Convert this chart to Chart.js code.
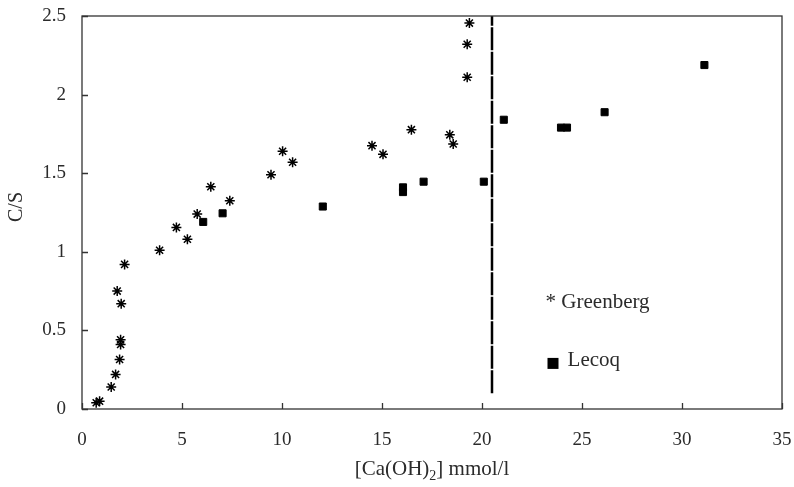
<!DOCTYPE html>
<html>
<head>
<meta charset="utf-8">
<script src="https://cdn.jsdelivr.net/npm/chart.js@4/dist/chart.umd.min.js"></script>
<style>
  html, body { margin:0; padding:0; background:#fff; }
  #wrap { width:794px; height:487px; }
</style>
</head>
<body>
<div id="wrap"><canvas id="csChart" width="794" height="487"></canvas></div>
<script>
// Greenberg (asterisks)
const greenbergX = [0.71, 0.88, 1.46, 1.68, 1.88, 1.93, 1.93, 1.96, 1.76, 2.13, 3.88, 4.72, 5.27, 5.76, 6.44, 7.39, 9.45, 10.03, 10.53, 14.5, 15.05, 16.47, 18.39, 18.56, 19.26, 19.26, 19.37];
const greenbergY = [0.04, 0.05, 0.14, 0.22, 0.315, 0.41, 0.44, 0.67, 0.75, 0.92, 1.01, 1.155, 1.08, 1.24, 1.414, 1.325, 1.49, 1.64, 1.57, 1.675, 1.62, 1.777, 1.744, 1.686, 2.11, 2.32, 2.455];

// Lecoq (squares)
const lecoqX = [6.06, 7.03, 12.04, 16.05, 16.05, 17.08, 20.09, 21.09, 23.95, 24.25, 26.13, 31.12];
const lecoqY = [1.19, 1.245, 1.288, 1.38, 1.41, 1.446, 1.446, 1.84, 1.79, 1.79, 1.888, 2.188];

// vertical boundary line
const boundaryX = [20.5, 20.5];
const boundaryY = [0.1, 2.5];

const xTicks = [0, 5, 10, 15, 20, 25, 30, 35];
const yTicks = [0, 0.5, 1, 1.5, 2, 2.5];

const serif = '"Liberation Serif", "Times New Roman", serif';
const textColor = '#2b2b2b';

function toPoints(xs, ys){
    return xs.map((x, i) => ({ x: x, y: ys[i] }));
}

// box, inner tick marks, axis titles and the in-plot legend
const decorations = {
    id: 'decorations',
    afterDraw(chart){
        const ctx = chart.ctx;
        const a = chart.chartArea;
        const xs = chart.scales.x, ys = chart.scales.y;
        ctx.save();
        ctx.strokeStyle = '#333';
        ctx.lineWidth = 1.3;
        ctx.strokeRect(a.left, a.top, a.right - a.left, a.bottom - a.top);
        ctx.beginPath();
        xTicks.forEach(v => {
            const px = Math.round(xs.getPixelForValue(v)) + 0.5;
            ctx.moveTo(px, a.bottom); ctx.lineTo(px, a.bottom - 6);
        });
        yTicks.forEach(v => {
            const py = Math.round(ys.getPixelForValue(v)) + 0.5;
            ctx.moveTo(a.left, py); ctx.lineTo(a.left + 6, py);
        });
        ctx.stroke();

        ctx.fillStyle = textColor;
        // x title with subscript
        const parts = ['[Ca(OH)', '2', '] mmol/l'];
        ctx.font = '21px ' + serif;
        const w0 = ctx.measureText(parts[0]).width;
        const w2 = ctx.measureText(parts[2]).width;
        ctx.font = '14px ' + serif;
        const w1 = ctx.measureText(parts[1]).width;
        let tx = (a.left + a.right) / 2 - (w0 + w1 + w2) / 2;
        const base = 475;
        ctx.textBaseline = 'alphabetic';
        ctx.textAlign = 'left';
        ctx.font = '21px ' + serif;
        ctx.fillText(parts[0], tx, base); tx += w0;
        ctx.font = '14px ' + serif;
        ctx.fillText(parts[1], tx, base + 5); tx += w1;
        ctx.font = '21px ' + serif;
        ctx.fillText(parts[2], tx, base);

        // y title
        ctx.save();
        ctx.translate(17, 207);
        ctx.rotate(-Math.PI / 2);
        ctx.textAlign = 'center';
        ctx.textBaseline = 'middle';
        ctx.font = '20px ' + serif;
        ctx.fillText('C/S', 0, 0);
        ctx.restore();

        // legend inside the plot
        ctx.font = '21px ' + serif;
        ctx.textBaseline = 'middle';
        ctx.fillText('* Greenberg', xs.getPixelForValue(23.18), ys.getPixelForValue(0.68));
        ctx.fillStyle = '#000';
        const sx = xs.getPixelForValue(23.55), sy = ys.getPixelForValue(0.29);
        ctx.fillRect(sx - 5.5, sy - 5.5, 11, 11);
        ctx.fillStyle = textColor;
        ctx.fillText('Lecoq', xs.getPixelForValue(24.28), ys.getPixelForValue(0.31));
        ctx.restore();
    }
};

new Chart(document.getElementById('csChart'), {
    type: 'scatter',
    data: {
        datasets: [
            { label: 'Greenberg', data: toPoints(greenbergX, greenbergY), pointStyle: 'star', pointRadius: 5, borderColor: '#000', backgroundColor: '#000', borderWidth: 1.5 },
            { label: 'Lecoq', data: toPoints(lecoqX, lecoqY), pointStyle: 'rect', pointRadius: 5, borderColor: '#000', backgroundColor: '#000', borderWidth: 1 },
            { type: 'line', label: 'limit', data: toPoints(boundaryX, boundaryY), borderColor: '#000', borderWidth: 2.5, borderDash: [23, 1.5], pointRadius: 0, fill: false }
        ]
    },
    options: {
        responsive: false,
        animation: false,
        layout: { padding: { top: 16, right: 12, left: 0, bottom: 0 } },
        plugins: { legend: { display: false }, tooltip: { enabled: false } },
        scales: {
            x: {
                type: 'linear', min: 0, max: 35,
                afterBuildTicks: s => { s.ticks = xTicks.map(v => ({ value: v })); },
                afterFit: s => { s.height = 78; s.paddingLeft = 0; s.paddingRight = 0; },
                grid: { display: true, drawOnChartArea: false, drawTicks: false },
                border: { display: false },
                ticks: { padding: 20, color: textColor, font: { family: serif, size: 19 }, maxRotation: 0, callback: v => String(v) }
            },
            y: {
                type: 'linear', min: 0, max: 2.5,
                afterBuildTicks: s => { s.ticks = yTicks.map(v => ({ value: v })); },
                afterFit: s => { s.width = 82; s.paddingTop = 0; s.paddingBottom = 0; },
                grid: { display: true, drawOnChartArea: false, drawTicks: false },
                border: { display: false },
                ticks: { padding: 16, color: textColor, font: { family: serif, size: 19 }, callback: v => String(v) }
            }
        }
    },
    plugins: [decorations]
});
</script>
</body>
</html>
